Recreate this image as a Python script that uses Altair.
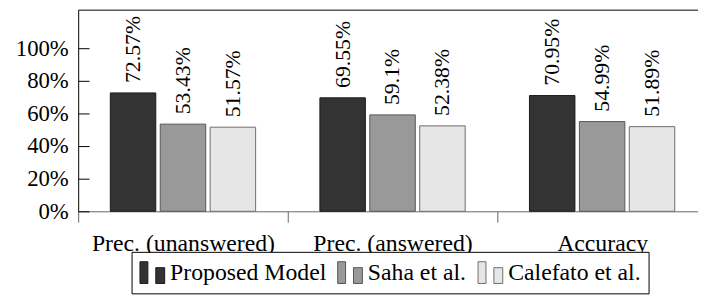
import altair as alt
import pandas as pd

categories = ["Prec. (unanswered)", "Prec. (answered)", "Accuracy"]
series_names = ["Proposed Model", "Saha et al.", "Calefato et al."]
proposed = [72.57, 69.55, 70.95]
saha = [53.43, 59.1, 54.99]
calefato = [51.57, 52.38, 51.89]
y_ticks = [0, 20, 40, 60, 80, 100]

fills = ["#333333", "#999999", "#e6e6e6"]
strokes = ["#1a1a1a", "#555555", "#6e6e6e"]

rows = []
for name, vals in zip(series_names, [proposed, saha, calefato]):
    for cat, v in zip(categories, vals):
        rows.append({"category": cat, "series": name, "value": v})
df = pd.DataFrame(rows)

FONT = "Liberation Serif"
icon = "M-1,-0.88H-0.36V0.88H-1Z M0.28,-0.4H1V0.88H0.28Z"

legend = alt.Legend(
    title=None, orient="none", direction="horizontal", legendX=54, legendY=245,
    symbolType=icon, symbolSize=625, symbolStrokeWidth=1,
    labelFont=FONT, labelFontSize=24, labelColor="black", labelLimit=400,
    labelOffset=5, columnPadding=9, padding=8,
    strokeColor="black", fillColor="white", cornerRadius=0,
)

x_scale = alt.Scale(domain=categories, range=[0, 636], paddingInner=0, paddingOuter=0)
off_scale = alt.Scale(domain=series_names, paddingInner=0.089, paddingOuter=0.644)
y_scale = alt.Scale(domain=[0, 123.6], nice=False)

bars = alt.Chart(df).mark_bar(strokeWidth=1).encode(
    x=alt.X("category:N", sort=categories, scale=x_scale,
            axis=alt.Axis(title=None, orient="bottom", labelAngle=0, labelFont=FONT,
                          labelFontSize=24, labelColor="black", labelPadding=10,
                          labelLimit=400, tickSize=11, tickColor="#666666",
                          tickBand="extent", domainColor="#666666", grid=False)),
    xOffset=alt.XOffset("series:N", sort=series_names, scale=off_scale),
    y=alt.Y("value:Q", scale=y_scale,
            axis=alt.Axis(title=None, values=y_ticks, labelExpr="datum.value + '%'",
                          labelFont=FONT, labelFontSize=23, labelColor="black",
                          labelPadding=10, ticks=False, tickSize=0,
                          domainColor="black", grid=False)),
    fill=alt.Fill("series:N", scale=alt.Scale(domain=series_names, range=fills), legend=legend),
    stroke=alt.Stroke("series:N", scale=alt.Scale(domain=series_names, range=strokes), legend=legend),
)

texts = alt.Chart(df).transform_calculate(label="datum.value + '%'").mark_text(
    angle=270, align="left", baseline="middle", dx=10, font=FONT, fontSize=22, color="black"
).encode(
    x=alt.X("category:N", sort=categories, scale=x_scale,
            axis=alt.Axis(orient="top", labels=False, ticks=False, domain=True,
                          domainColor="black", domainWidth=1, title=None, grid=False)),
    xOffset=alt.XOffset("series:N", sort=series_names, scale=off_scale),
    y=alt.Y("value:Q", scale=y_scale,
            axis=alt.Axis(orient="left", offset=-11, labels=False, domain=False, ticks=True,
                          tickSize=11, tickColor="black", values=y_ticks, title=None, grid=False)),
    text="label:N",
)

chart = alt.layer(bars, texts).resolve_axis(x="independent", y="independent").properties(
    width=627, height=204,
    padding={"left": 71, "top": 0, "right": 0, "bottom": 84},
    autosize=alt.AutoSizeParams(type="none"),
).configure_view(stroke=None)

chart.save("out.html", embed_options={"renderer": "svg", "actions": False})
